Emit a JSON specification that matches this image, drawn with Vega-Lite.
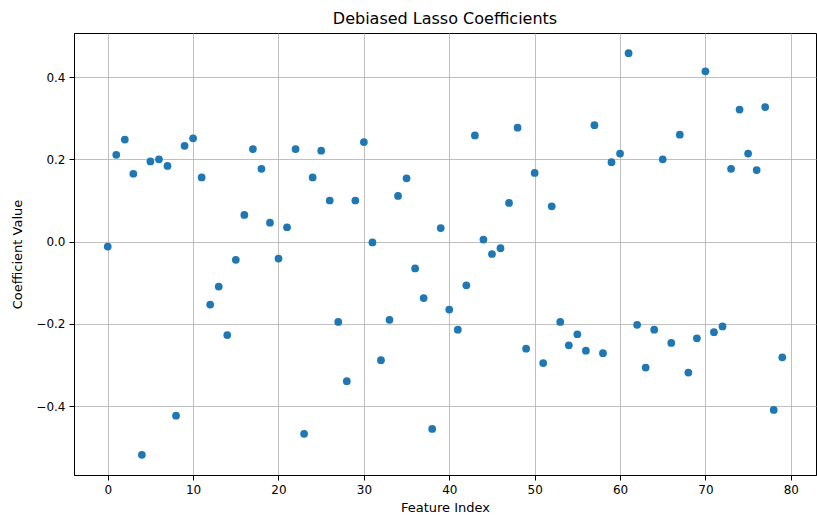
{
  "$schema": "https://vega.github.io/schema/vega-lite/v6.json",
  "width": 742,
  "height": 442,
  "autosize": {"type": "none"},
  "padding": {"left": 74, "top": 33, "right": 1, "bottom": 44},
  "background": "white",
  "title": {"text": "Debiased Lasso Coefficients", "font": "DejaVu Sans", "fontSize": 16, "fontWeight": "normal", "color": "black", "offset": 6},
  "config": {
    "view": {"stroke": "black", "strokeWidth": 1},
    "axis": {
      "labelFont": "DejaVu Sans", "titleFont": "DejaVu Sans",
      "labelFontSize": 12, "titleFontSize": 13, "titleFontWeight": "normal",
      "labelColor": "black", "titleColor": "black",
      "domainColor": "black", "tickColor": "black", "tickSize": 5,
      "gridColor": "#b0b0b0", "gridWidth": 1, "gridOpacity": 0.8
    }
  },
  "data": {"values": [
    {"i":0,"v":-0.012},{"i":1,"v":0.211},{"i":2,"v":0.248},{"i":3,"v":0.165},{"i":4,"v":-0.518},
    {"i":5,"v":0.195},{"i":6,"v":0.200},{"i":7,"v":0.184},{"i":8,"v":-0.423},{"i":9,"v":0.233},
    {"i":10,"v":0.251},{"i":11,"v":0.156},{"i":12,"v":-0.153},{"i":13,"v":-0.109},{"i":14,"v":-0.227},
    {"i":15,"v":-0.044},{"i":16,"v":0.065},{"i":17,"v":0.225},{"i":18,"v":0.177},{"i":19,"v":0.046},
    {"i":20,"v":-0.041},{"i":21,"v":0.035},{"i":22,"v":0.225},{"i":23,"v":-0.467},{"i":24,"v":0.156},
    {"i":25,"v":0.221},{"i":26,"v":0.100},{"i":27,"v":-0.195},{"i":28,"v":-0.339},{"i":29,"v":0.100},
    {"i":30,"v":0.242},{"i":31,"v":-0.002},{"i":32,"v":-0.288},{"i":33,"v":-0.190},{"i":34,"v":0.111},
    {"i":35,"v":0.154},{"i":36,"v":-0.065},{"i":37,"v":-0.137},{"i":38,"v":-0.455},{"i":39,"v":0.033},
    {"i":40,"v":-0.165},{"i":41,"v":-0.214},{"i":42,"v":-0.106},{"i":43,"v":0.258},{"i":44,"v":0.005},
    {"i":45,"v":-0.030},{"i":46,"v":-0.016},{"i":47,"v":0.094},{"i":48,"v":0.277},{"i":49,"v":-0.260},
    {"i":50,"v":0.167},{"i":51,"v":-0.295},{"i":52,"v":0.086},{"i":53,"v":-0.195},{"i":54,"v":-0.252},
    {"i":55,"v":-0.225},{"i":56,"v":-0.265},{"i":57,"v":0.283},{"i":58,"v":-0.271},{"i":59,"v":0.193},
    {"i":60,"v":0.214},{"i":61,"v":0.458},{"i":62,"v":-0.202},{"i":63,"v":-0.306},{"i":64,"v":-0.214},
    {"i":65,"v":0.200},{"i":66,"v":-0.246},{"i":67,"v":0.260},{"i":68,"v":-0.318},{"i":69,"v":-0.235},
    {"i":70,"v":0.414},{"i":71,"v":-0.220},{"i":72,"v":-0.206},{"i":73,"v":0.177},{"i":74,"v":0.321},
    {"i":75,"v":0.214},{"i":76,"v":0.174},{"i":77,"v":0.327},{"i":78,"v":-0.409},{"i":79,"v":-0.281}
  ]},
  "mark": {"type": "point", "filled": true, "opacity": 1, "size": 60, "color": "#1f77b4"},
  "encoding": {
    "x": {"field": "i", "type": "quantitative", "title": "Feature Index",
      "scale": {"domain": [-3.95, 82.95], "nice": false, "zero": false},
      "axis": {"values": [0,10,20,30,40,50,60,70,80], "labelPadding": 4, "titlePadding": 6}},
    "y": {"field": "v", "type": "quantitative", "title": "Coefficient Value",
      "scale": {"domain": [-0.567, 0.507], "nice": false, "zero": false},
      "axis": {"values": [-0.4,-0.2,0,0.2,0.4], "format": ".1f", "labelPadding": 4, "titlePadding": 11}}
  }
}
